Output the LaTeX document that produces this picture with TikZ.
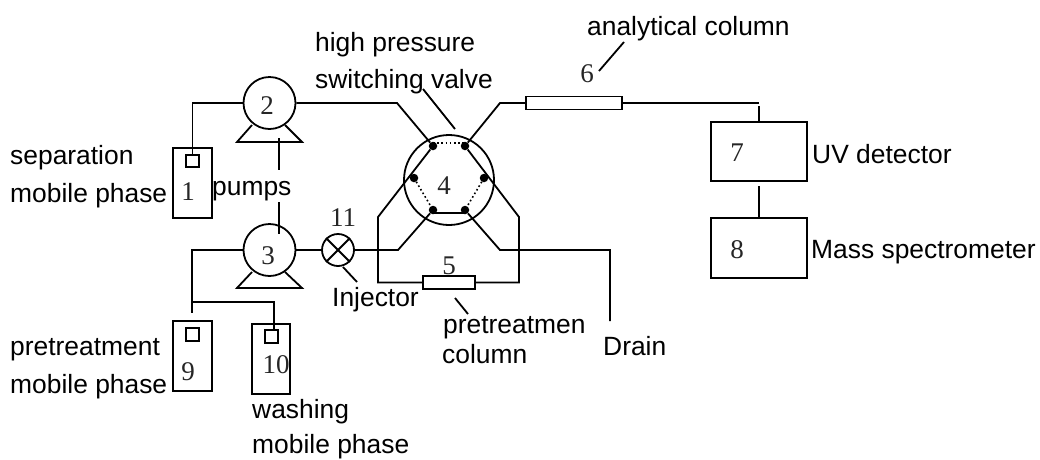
\documentclass[tikz,border=0pt]{standalone}
\usepackage{fontspec}
\setmainfont{Liberation Sans}
\newfontfamily\numfont{Liberation Serif}
\tikzset{
  ln/.style={draw=black,line width=1.8pt},
  lbl/.style={font=\fontsize{26.4}{30}\selectfont,text=black,inner sep=0pt,align=left},
  num/.style={font=\numfont\fontsize{27}{27}\selectfont,text=black!85,inner sep=0pt},
  port/.style={circle,fill=black,inner sep=0pt,minimum size=8.5pt},
  pumpc/.style={circle,ln,fill=white,inner sep=0pt,minimum size=52pt},
  boxn/.style={rectangle,ln,fill=white,inner sep=0pt},
  dots/.style={draw=black,line width=1.6pt,dash pattern=on 1.6pt off 2.6pt}
}
\begin{document}
\begin{tikzpicture}[x=1pt,y=-1pt]
\useasboundingbox (0,0) rectangle (1040,459);
% pump triangles
\draw[ln] (252,125)--(237,142)--(302,142)--(285,125);
\draw[ln] (252,272)--(237,288)--(302,288)--(285,272);
\node[pumpc] (p2) at (269.5,103) {};
\node[pumpc] (p3) at (269.5,250) {};
\node[num] at (267,106) {2};
\node[num] at (268,256) {3};
% pump label ties
\coordinate (t1) at (279,138); \coordinate (t2) at (279,170);
\coordinate (t3) at (279,202); \coordinate (t4) at (279,234);
\draw[ln] (t1)--(t2) (t3)--(t4);
% bottles
\node[boxn,minimum width=39pt,minimum height=70pt] (b1) at (192.5,183) {};
\node[boxn,minimum width=13pt,minimum height=12pt] (s1) at (192.5,161) {};
\node[num] at (188,192) {1};
\node[boxn,minimum width=39pt,minimum height=70pt] (b9) at (192.5,356) {};
\node[boxn,minimum width=13pt,minimum height=13pt] (s9) at (192.5,334.5) {};
\node[num] at (188,372) {9};
\node[boxn,minimum width=38pt,minimum height=70pt] (b10) at (271,359) {};
\node[boxn,minimum width=13pt,minimum height=13pt] (s10) at (271.5,336.5) {};
\node[num] at (276,365) {10};
\node[lbl,anchor=base west] (pumps) at (212,195) {pumps};
% pipes left
\draw[ln] (s1.north)--(192.5,103)--(p2.west);
\draw[ln] (p3.west)--(192,250)--(192,313);
\draw[ln] (192,302)--(274,302)--(274,330);
% injector
\node[circle,ln,fill=white,inner sep=0pt,minimum size=32pt] (v) at (338,250) {};
\draw[ln] (v.north west)--(v.south east) (v.north east)--(v.south west);
\node[num] at (343,218) {11};
\coordinate (i1) at (343,267); \coordinate (i2) at (357,282);
\draw[ln] (i1)--(i2);
\draw[ln] (p3.east)--(v.west);
% valve
\node[circle,ln,inner sep=0pt,minimum size=90pt] (vv) at (449,180) {};
\node[num] at (444,186) {4};
\node[port] (a) at (433,146) {};
\node[port] (b) at (465,146) {};
\node[port] (c) at (484,178) {};
\node[port] (d) at (465,210) {};
\node[port] (e) at (433,210) {};
\node[port] (f) at (414,178) {};
\draw[dots] (433,143)--(465,143);
\draw[dots] (f)--(e) (c)--(d);
\draw[ln] (433,213)--(465,213);
% column 5
\node[boxn,minimum width=52pt,minimum height=13pt] (c5) at (449,282.5) {};
\node[num] at (449,266) {5};
\draw[ln] (a)--(378,217)--(378,282.5)--(c5.west);
\draw[ln] (b)--(519,217)--(519,282.5)--(c5.east);
\draw[ln] (v.east)--(398,250)--(e);
\coordinate (dr) at (610,321);
\draw[ln] (d)--(500,250)--(610,250)--(dr);
\draw[ln] (p2.east)--(397,103)--(a);
\coordinate (l5) at (455,298); \coordinate (l6) at (468,314);
\draw[ln] (l5)--(l6);
% column 6
\node[boxn,minimum width=96pt,minimum height=13pt] (c6) at (574,103) {};
\draw[ln] (b)--(500,103)--(c6.west);
\node[boxn,minimum width=96pt,minimum height=59pt] (d7) at (759,151.5) {};
\node[boxn,minimum width=96pt,minimum height=60pt] (d8) at (759,248) {};
\node[num] at (737,153) {7};
\node[num] at (737,250) {8};
\coordinate (j7) at (759,103); \coordinate (j8) at (759,106); \coordinate (j9) at (759,186);
\draw[ln] (c6.east)--(j7);
\draw[ln] (j8)--(d7.north);
\draw[ln] (j9)--(d8.north);
\node[num] at (587,74) {6};
\coordinate (l1) at (599,71); \coordinate (l2) at (624,42);
\draw[ln] (l1)--(l2);
\coordinate (l3) at (423,89); \coordinate (l4) at (455,129);
\draw[ln] (l3)--(l4);
% labels
\node[lbl,anchor=base west] at (315,51) {high pressure};
\node[lbl,anchor=base west] at (315,88) {switching valve};
\node[lbl,anchor=base west] at (587,35) {analytical column};
\node[lbl,anchor=base west] at (10,164) {separation};
\node[lbl,anchor=base west] at (10,202) {mobile phase};
\node[lbl,anchor=base west] at (10,355) {pretreatment};
\node[lbl,anchor=base west] at (10,393) {mobile phase};
\node[lbl,anchor=base west] at (252,418) {washing};
\node[lbl,anchor=base west] at (252,453) {mobile phase};
\node[lbl,anchor=base west] at (332,306) {Injector};
\node[lbl,anchor=base west] at (443,333) {pretreatmen};
\node[lbl,anchor=base west] at (442,363) {column};
\node[lbl,anchor=base west] at (603,355) {Drain};
\node[lbl,anchor=base west] at (812,163) {UV detector};
\node[lbl,anchor=base west] at (811,258) {Mass spectrometer};
\end{tikzpicture}
\end{document}
